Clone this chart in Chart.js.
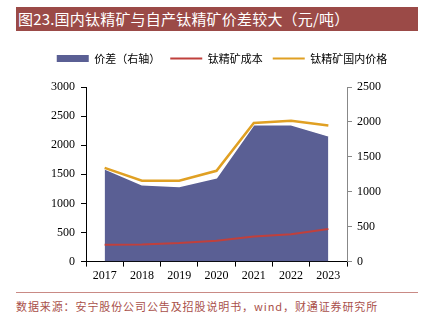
<!DOCTYPE html>
<html lang="zh">
  <head>
    <meta charset="UTF-8">
    <script src="https://cdn.jsdelivr.net/npm/chart.js"></script>
    <title>钛精矿价差</title>
    <style>
      body{margin: 0; width: 427px; height: 328px; background: #fff; position: relative; overflow: hidden;}
      #title{position: absolute; left: 16px; top: 7px; width: 402px; height: 24px; background: #9b4a47; color: #fff;
        font: 15px "Noto Sans CJK SC"; line-height: 24px; letter-spacing: 0.2px; padding-left: 2px; box-sizing: border-box;}
      #wrap{position: absolute; left: 0; top: 43px; width: 427px; height: 242px;}
      #line{position: absolute; left: 16px; top: 292px; width: 402px; height: 1px; background: #c98a85;}
      #source{position: absolute; left: 16px; top: 298px; color: #a9504a; font: 11px "Noto Sans CJK SC"; letter-spacing: 0.9px; white-space: nowrap;}
    </style>
  </head>
  <body>
    <div id="title">图23.国内钛精矿与自产钛精矿价差较大（元/吨）</div>
    <div id="wrap"><canvas id="myChart"></canvas></div>
    <div id="line"></div>
    <div id="source">数据来源：安宁股份公司公告及招股说明书，wind，财通证券研究所</div>
    <script>
      // 数据
      const years = ['2017', '2018', '2019', '2020', '2021', '2022', '2023'];
      const priceGap = [1330, 1100, 1075, 1200, 1960, 1960, 1800];   // 右轴
      const ownCost = [290, 295, 320, 360, 430, 470, 560];
      const domesticPrice = [1610, 1390, 1390, 1560, 2380, 2420, 2340];
      const leftTicks = [0, 500, 1000, 1500, 2000, 2500, 3000];
      const rightTicks = [0, 500, 1000, 1500, 2000, 2500];

      const serif = {family: '"Liberation Serif"', size: 12};

      // 图例下方留白
      const legendGap = {
        id: 'legendGap',
        beforeInit(chart) {
          const fit = chart.legend.fit;
          chart.legend.fit = function() {
            fit.call(this);
            this.height += 13;
          };
        }
      };

      new Chart(document.getElementById('myChart'), {
        type: 'line',
        data: {
          labels: years,
          datasets: [{
            label: '价差（右轴）',
            data: priceGap,
            yAxisID: 'y1',
            fill: 'origin',
            backgroundColor: '#5a5f94',
            borderColor: '#ffffff',
            borderWidth: 1.5,
            pointRadius: 0,
            tension: 0,
            order: 2
          }, {
            label: '钛精矿成本',
            data: ownCost,
            yAxisID: 'y',
            borderColor: '#c0403c',
            borderWidth: 2,
            pointRadius: 0,
            fill: false,
            order: 1
          }, {
            label: '钛精矿国内价格',
            data: domesticPrice,
            yAxisID: 'y',
            borderColor: '#e0a023',
            borderWidth: 2.5,
            pointRadius: 0,
            fill: false,
            order: 0
          }]
        },
        plugins: [legendGap],
        options: {
          responsive: true,
          maintainAspectRatio: false,
          animation: false,
          layout: {padding: {left: 17, right: 0, top: 0, bottom: 0}},
          plugins: {
            tooltip: {enabled: false},
            filler: {drawTime: 'beforeDatasetsDraw'},
            legend: {
              position: 'top',
              labels: {
                color: '#000',
                font: {family: '"Noto Sans CJK SC"', size: 11},
                usePointStyle: true,
                pointStyleWidth: 32,
                boxHeight: 7,
                padding: 10,
                sort: (a, b) => a.datasetIndex - b.datasetIndex,
                generateLabels: (chart) => chart.data.datasets.map((ds, i) => ({
                  text: ds.label,
                  datasetIndex: i,
                  fillStyle: i === 0 ? ds.backgroundColor : ds.borderColor,
                  strokeStyle: i === 0 ? ds.backgroundColor : ds.borderColor,
                  lineWidth: i === 0 ? 0 : 2,
                  pointStyle: i === 0 ? 'rect' : 'line',
                  fontColor: '#000',
                  hidden: false
                }))
              }
            }
          },
          scales: {
            x: {
              offset: true,
              grid: {display: true, drawOnChartArea: false, offset: true, tickLength: 5, color: '#000'},
              border: {color: '#000'},
              ticks: {color: '#000', font: serif, padding: 2, maxRotation: 0}
            },
            y: {
              position: 'left',
              min: 0, max: 3000,
              afterBuildTicks: (axis) => { axis.ticks = leftTicks.map(v => ({value: v})); },
              afterFit: (axis) => { axis.width = 69; },
              grid: {drawOnChartArea: false, tickLength: 5, color: '#000'},
              border: {color: '#000'},
              ticks: {color: '#000', font: serif, padding: 6, callback: (v) => String(v)}
            },
            y1: {
              position: 'right',
              min: 0, max: 2500,
              afterBuildTicks: (axis) => { axis.ticks = rightTicks.map(v => ({value: v})); },
              afterFit: (axis) => { axis.width = 80; },
              grid: {drawOnChartArea: false, tickLength: 5, color: '#888'},
              border: {color: '#888'},
              ticks: {color: '#000', font: serif, padding: 5, callback: (v) => String(v)}
            }
          }
        }
      });
    </script>
  </body>
</html>
